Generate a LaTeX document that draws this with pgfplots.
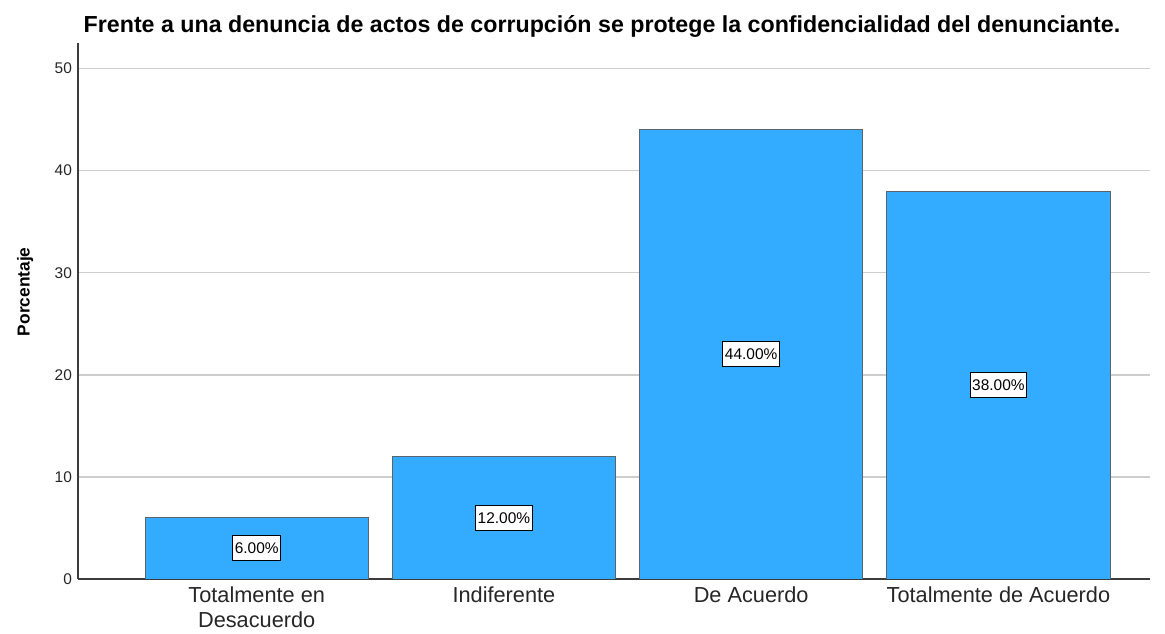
\documentclass[border=0pt]{standalone}
\usepackage{pgfplots}
\pgfplotsset{compat=1.18}
\usepackage{fontspec}
\setmainfont{Liberation Sans}
\definecolor{barblue}{RGB}{51,172,255}
\definecolor{bardraw}{RGB}{90,100,110}
\definecolor{gridgray}{RGB}{205,205,205}
\definecolor{axisgray}{RGB}{60,60,60}
\begin{document}
\begin{tikzpicture}
\useasboundingbox (-58.5pt,-41.25pt) rectangle (815.25pt,434.25pt);
\begin{axis}[
  scale only axis, width=804pt, height=402pt,
  xmin=-0.7227, xmax=3.613, ymin=0, ymax=52.5,
  axis lines*=left,
  axis line style={-, draw=axisgray, line width=0.9pt},
  xtick={0,1,2,3},
  xticklabels={{Totalmente en\\Desacuerdo},{Indiferente},{De Acuerdo},{Totalmente de Acuerdo}},
  xticklabel style={font=\fontsize{16.3pt}{18.75pt}\selectfont, align=center, text=black!85, yshift=-2pt},
  ytick={0,10,20,30,40,50},
  yticklabel style={font=\fontsize{11.6pt}{13pt}\selectfont, text=black!85, xshift=-1pt},
  /pgf/number format/assume math mode=true,
  major tick length=0pt,
  ymajorgrids, grid style={gridgray, line width=1.1pt},
  title={Frente a una denuncia de actos de corrupción se protege la confidencialidad del denunciante.},
  title style={font=\bfseries\fontsize{17.4pt}{20pt}\selectfont, at={(axis description cs:0.4888,1.0205)}, anchor=base, inner sep=0pt, yshift=-6pt},
  ylabel={Porcentaje},
  ylabel style={font=\bfseries\fontsize{13pt}{15pt}\selectfont, at={(axis description cs:-0.0494,0.536)}, rotate=0, anchor=center},
]
\addplot[ybar, bar width=0.903, bar shift=0pt, fill=barblue, draw=bardraw, line width=0.6pt]
  coordinates {(0,6) (1,12) (2,44) (3,38)};
\addplot[only marks, mark=none, point meta=explicit symbolic,
  nodes near coords,
  nodes near coords align=center,
  every node near coord/.append style={anchor=center, draw=black, fill=white, line width=0.6pt,
    font=\fontsize{11.6pt}{13pt}\selectfont, inner xsep=1.6pt, inner ysep=0pt, minimum height=18.75pt}]
  coordinates {(0,3)[6.00\%] (1,6)[12.00\%] (2,22)[44.00\%] (3,19)[38.00\%]};
\end{axis}
\end{tikzpicture}
\end{document}
